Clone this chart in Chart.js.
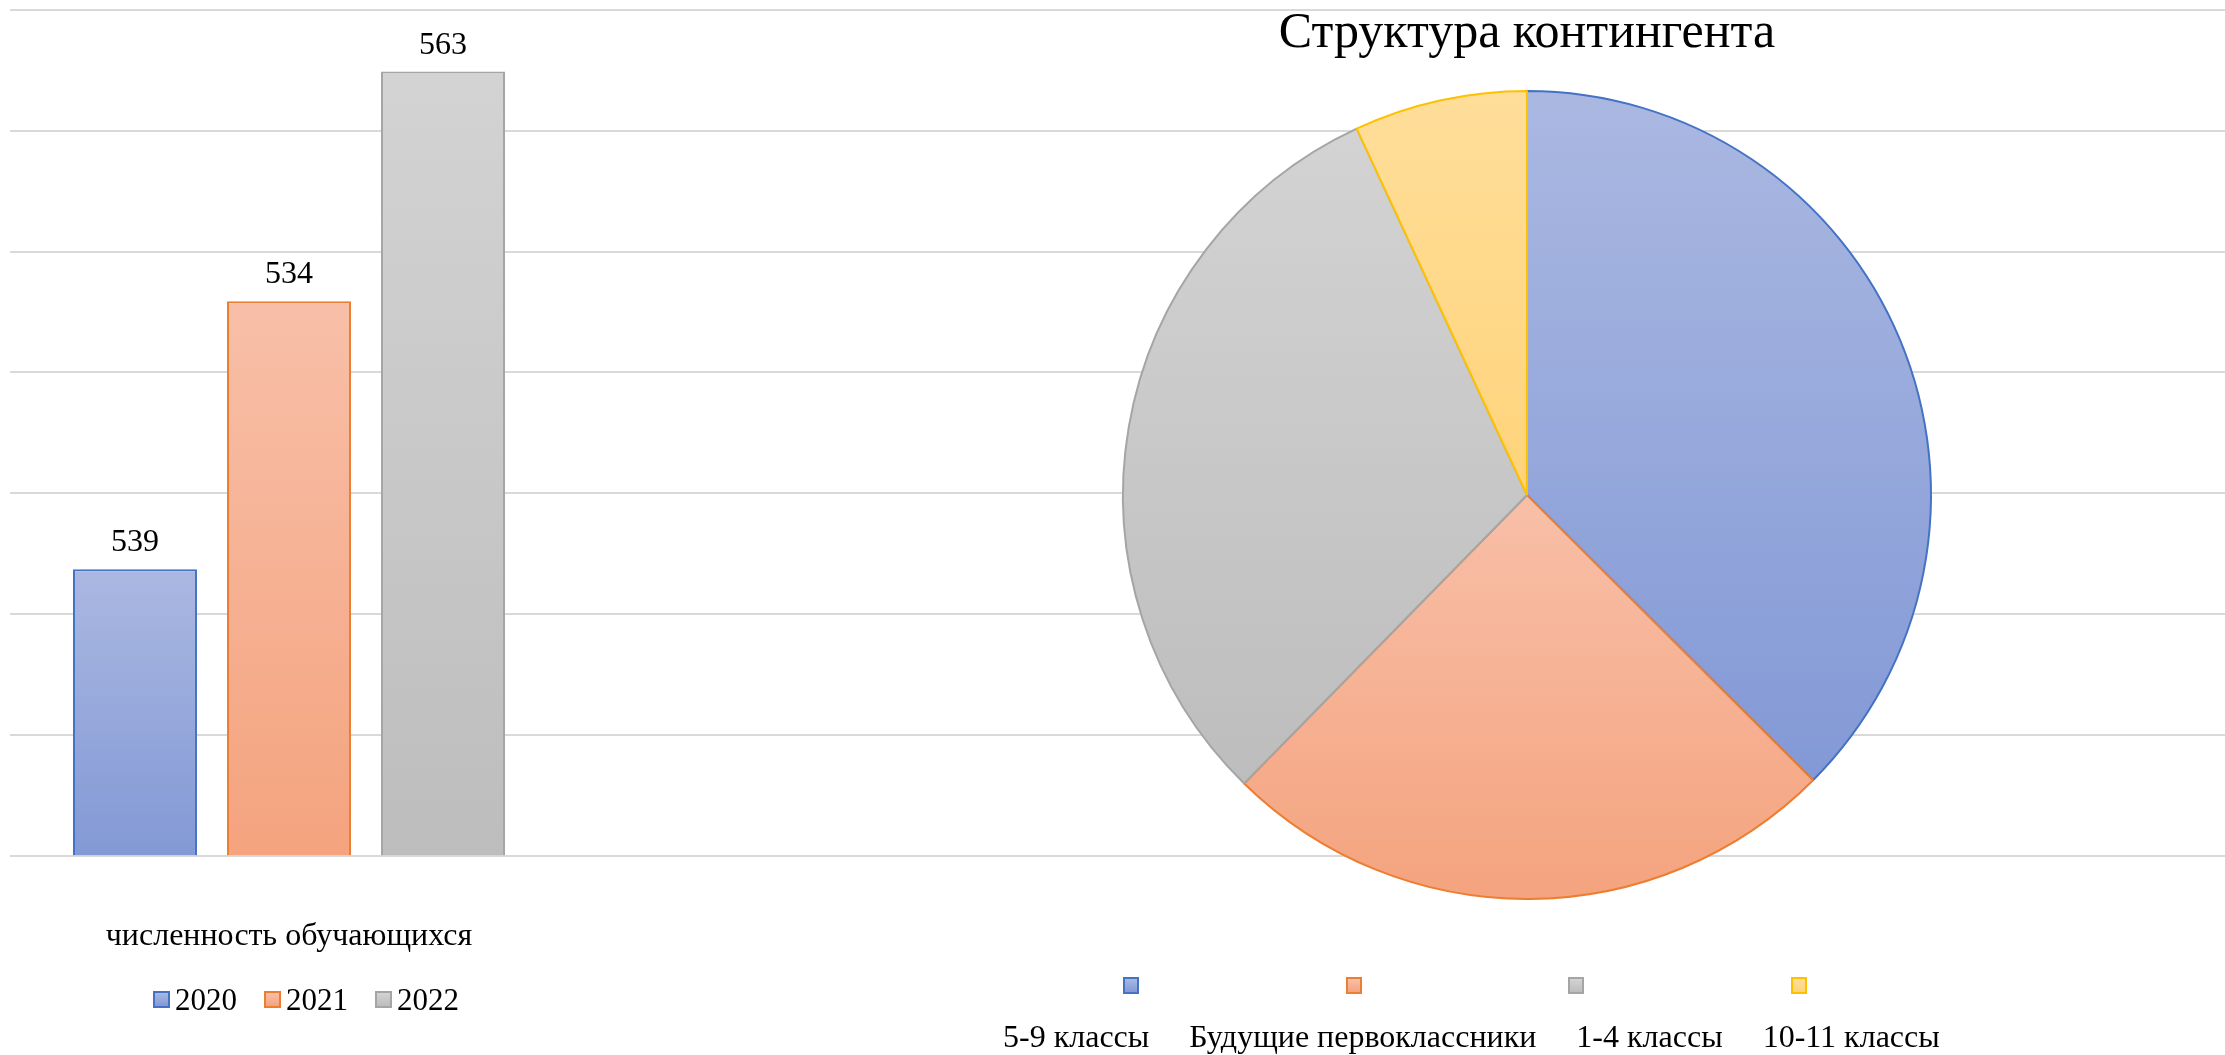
<!DOCTYPE html>
<html>
<head>
<meta charset="utf-8">
<script src="https://cdn.jsdelivr.net/npm/chart.js@4.4.0/dist/chart.umd.min.js"></script>
<style>
    body { margin: 0; background: #fff; }
    #wrap { position: relative; width: 2225px; height: 1055px; overflow: hidden;
            font-family: "Liberation Serif", "Times New Roman", serif; color: #000; }
    #barChart { position: absolute; left: 0; top: 0; }
    #pieChart { position: absolute; left: 1027px; top: 0; }
    .legend { position: absolute; display: flex; align-items: center; font-size: 31px; line-height: 1; }
    .legend .box { display: inline-block; width: 13px; height: 13px; border: 2px solid; }
    #barLegend { left: 153px; top: 984px; }
    #barLegend .item { display: flex; align-items: center; margin-right: 27px; }
    #barLegend .box { margin-right: 5px; }
    #pieMarkers { left: 1123px; top: 977px; width: 684px; justify-content: space-between; }
    #pieMarkers .box { width: 12px; height: 13px; }
    #pieLabels { left: 1003px; top: 1020px; font-size: 32px; }
    #pieLabels span { margin-right: 40px; white-space: nowrap; }
</style>
</head>
<body>
<div id="wrap">
    <canvas id="barChart" width="2225" height="1055"></canvas>
    <canvas id="pieChart" width="1000" height="900"></canvas>
    <div class="legend" id="barLegend"></div>
    <div class="legend" id="pieMarkers"></div>
    <div class="legend" id="pieLabels"></div>
</div>
<script>
var years = ['2020', '2021', '2022'];
var barCategory = 'численность обучающихся';
var barHeights = [237, 459, 649];
var barLabels = ['539', '534', '563'];
var yMax = 700;
var yStep = 100;

var pieTitle = 'Структура контингента';
var pieLabels = ['5-9 классы', 'Будущие первоклассники', '1-4 классы', '10-11 классы'];
var pieValues = [211, 140, 173, 39];

var lightColors = ['#aab8e1', '#f8bfa8', '#d3d3d3', '#ffde9a'];
var darkColors = ['#8399d6', '#f4a37e', '#bdbdbd', '#ffd37a'];
var lineColors = ['#4472c4', '#ed7d31', '#a5a5a5', '#ffc000'];

Chart.defaults.font.family = '"Liberation Serif", "Times New Roman", serif';
Chart.defaults.color = '#000';

function vGradient(ctx, top, bottom, i) {
    var g = ctx.createLinearGradient(0, top, 0, bottom);
    g.addColorStop(0, lightColors[i]);
    g.addColorStop(1, darkColors[i]);
    return g;
}

function barFill(i) {
    return function (context) {
        var chart = context.chart;
        if (!chart.chartArea || context.type !== 'data') return lightColors[i];
        var y = chart.scales.y;
        return vGradient(chart.ctx, y.getPixelForValue(context.raw), y.getPixelForValue(0), i);
    };
}

function sliceFill(context) {
    var i = context.dataIndex;
    var chart = context.chart;
    var area = chart.chartArea;
    if (!area || context.type !== 'data') return lightColors[i];
    var data = context.dataset.data;
    var total = 0, before = 0;
    for (var j = 0; j < data.length; j++) {
        total += data[j];
        if (j < i) before += data[j];
    }
    var cx = (area.left + area.right) / 2;
    var cy = (area.top + area.bottom) / 2;
    var r = Math.min(area.right - area.left, area.bottom - area.top) / 2;
    var a0 = -Math.PI / 2 + 2 * Math.PI * before / total;
    var a1 = a0 + 2 * Math.PI * data[i] / total;
    var ys = [cy, cy + r * Math.sin(a0), cy + r * Math.sin(a1)];
    [-Math.PI / 2, Math.PI / 2, 3 * Math.PI / 2].forEach(function (a) {
        if (a >= a0 && a <= a1) ys.push(cy + r * Math.sin(a));
    });
    return vGradient(chart.ctx, Math.min.apply(null, ys), Math.max.apply(null, ys), i);
}

// horizontal grid lines of the bar chart run across the whole picture
var wideGrid = {
    id: 'wideGrid',
    beforeDatasetsDraw: function (chart) {
        var y = chart.scales.y;
        var ctx = chart.ctx;
        ctx.save();
        ctx.strokeStyle = '#d9d9d9';
        ctx.lineWidth = 2;
        y.ticks.forEach(function (t) {
            var py = Math.round(y.getPixelForValue(t.value));
            ctx.beginPath();
            ctx.moveTo(chart.chartArea.left, py);
            ctx.lineTo(chart.width, py);
            ctx.stroke();
        });
        ctx.restore();
    }
};

var valueLabels = {
    id: 'valueLabels',
    afterDatasetsDraw: function (chart) {
        var ctx = chart.ctx;
        ctx.save();
        ctx.font = '32px "Liberation Serif", serif';
        ctx.fillStyle = '#000';
        ctx.textAlign = 'center';
        ctx.textBaseline = 'alphabetic';
        chart.data.datasets.forEach(function (ds, i) {
            var bar = chart.getDatasetMeta(i).data[0];
            ctx.fillText(barLabels[i], bar.x, bar.y - 18);
        });
        ctx.restore();
    }
};

new Chart(document.getElementById('barChart').getContext('2d'), {
    type: 'bar',
    data: {
        labels: [barCategory],
        datasets: years.map(function (yr, i) {
            return {
                label: yr,
                data: [barHeights[i]],
                backgroundColor: barFill(i),
                borderColor: lineColors[i],
                borderWidth: 2
            };
        })
    },
    options: {
        responsive: false,
        animation: false,
        categoryPercentage: 0.828,
        barPercentage: 0.805,
        layout: { padding: { left: 10, top: 10, right: 1657, bottom: 37 } },
        plugins: { legend: { display: false }, tooltip: { enabled: false } },
        scales: {
            x: {
                grid: { display: false, drawTicks: false },
                border: { display: false },
                ticks: { font: { size: 32 }, color: '#000', padding: 62 }
            },
            y: {
                display: false,
                min: 0,
                max: yMax,
                ticks: { stepSize: yStep }
            }
        }
    },
    plugins: [wideGrid, valueLabels]
});

new Chart(document.getElementById('pieChart').getContext('2d'), {
    type: 'pie',
    data: {
        labels: pieLabels,
        datasets: [{
            data: pieValues,
            backgroundColor: sliceFill,
            borderColor: lineColors,
            borderWidth: 2
        }]
    },
    options: {
        responsive: false,
        animation: false,
        plugins: {
            legend: { display: false },
            tooltip: { enabled: false },
            title: {
                display: true,
                text: pieTitle,
                color: '#000',
                font: { size: 50, weight: 'normal' },
                padding: { top: 4, bottom: 26 }
            }
        }
    }
});

// legends
var barLegend = document.getElementById('barLegend');
years.forEach(function (yr, i) {
    var item = document.createElement('span');
    item.className = 'item';
    item.innerHTML = '<span class="box" style="border-color:' + lineColors[i] +
        ';background:linear-gradient(' + lightColors[i] + ',' + darkColors[i] + ')"></span>' + yr;
    barLegend.appendChild(item);
});
var pieMarkers = document.getElementById('pieMarkers');
var pieLabelRow = document.getElementById('pieLabels');
pieLabels.forEach(function (lb, i) {
    var box = document.createElement('span');
    box.className = 'box';
    box.style.borderColor = lineColors[i];
    box.style.background = 'linear-gradient(' + lightColors[i] + ',' + darkColors[i] + ')';
    pieMarkers.appendChild(box);
    var t = document.createElement('span');
    t.textContent = lb;
    pieLabelRow.appendChild(t);
});
</script>
</body>
</html>
